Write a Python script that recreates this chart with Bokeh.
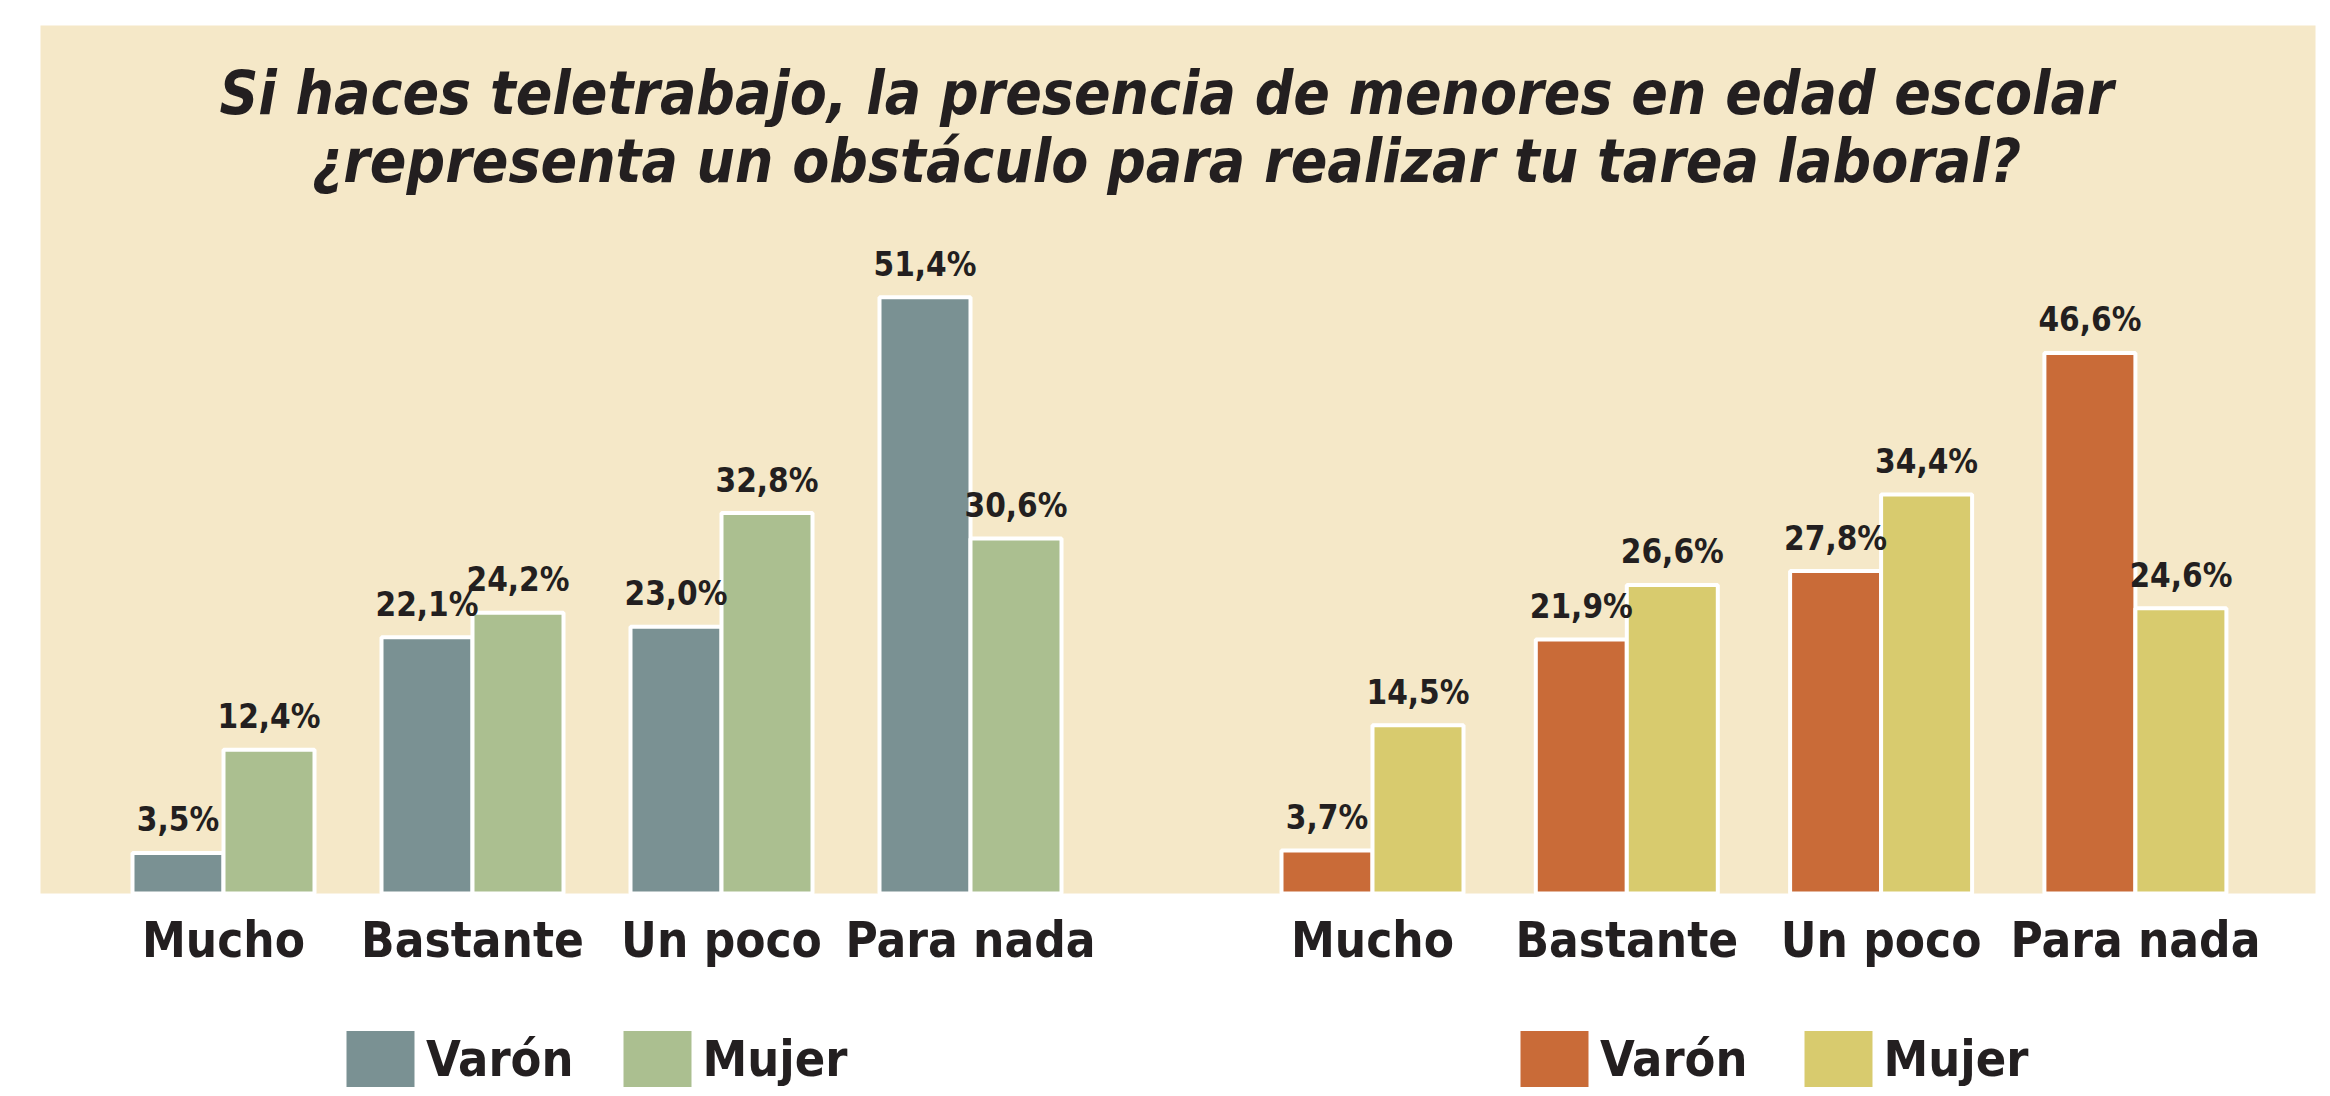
from bokeh.plotting import figure
from bokeh.models import ColumnDataSource, Range1d, Legend, LegendItem, BoxAnnotation
from bokeh.core.properties import value
from bokeh.embed import file_html
from bokeh.resources import INLINE

# ---------------- data ----------------
categories = ["Mucho", "Bastante", "Un poco", "Para nada"]
left_varon = [3.5, 22.1, 23.0, 51.4]
left_mujer = [12.4, 24.2, 32.8, 30.6]
right_varon = [3.7, 21.9, 27.8, 46.6]
right_mujer = [14.5, 26.6, 34.4, 24.6]
series_names = ["Varón", "Mujer"]
title_lines = [
    "Si haces teletrabajo, la presencia de menores en edad escolar",
    "¿representa un obstáculo para realizar tu tarea laboral?",
]

# ---------------- layout / style ----------------
W, H = 2330, 1096
BASE_Y = 893            # screen y of the bars' baseline
PANEL = (40, 2315, 25)  # beige panel left, right, top (screen px)
PX_PER_PCT = 11.6
BAR_W = 91
FONT = ("'Noto Sans Condensed', 'DejaVu Sans Condensed', "
        "'Liberation Sans Narrow', sans-serif")
INK = "#231F20"
BEIGE = "#F5E8C8"

groups = [
    dict(start=223, step=249, varon=left_varon, mujer=left_mujer,
         colors=("#7A9193", "#ABBF90"), legend_x=335, legend_spacing=38),
    dict(start=1372, step=254.3, varon=right_varon, mujer=right_mujer,
         colors=("#C96B38", "#D8CB6E"), legend_x=1509, legend_spacing=45),
]

y_bottom = -(H - BASE_Y) / PX_PER_PCT
y_top = BASE_Y / PX_PER_PCT

p = figure(width=W, height=H, x_range=Range1d(0, W), y_range=Range1d(y_bottom, y_top),
           output_backend="svg", toolbar_location=None, title=None,
           x_axis_location=None, y_axis_location=None, min_border=0)
p.background_fill_color = "white"
p.border_fill_color = "white"
p.outline_line_color = None
p.xgrid.visible = False
p.ygrid.visible = False

p.add_layout(BoxAnnotation(left=PANEL[0], right=PANEL[1], bottom=0,
                           top=(BASE_Y - PANEL[2]) / PX_PER_PCT,
                           fill_color=BEIGE, fill_alpha=1, line_color=None,
                           level="underlay"))

def fmt(v):
    return f"{v:.1f}%".replace(".", ",")

cat_x, cat_t = [], []
label_x, label_y, label_t = [], [], []

for g in groups:
    centers = [g["start"] + i * g["step"] for i in range(len(categories))]
    cat_x.extend(centers)
    cat_t.extend(categories)
    renderers = []
    for k, (vals, col) in enumerate(((g["varon"], g["colors"][0]), (g["mujer"], g["colors"][1]))):
        xs = [c + (k - 0.5) * BAR_W for c in centers]
        src = ColumnDataSource(dict(x=xs, top=vals))
        r = p.vbar(x="x", top="top", bottom=0, width=BAR_W, source=src,
                   fill_color=col, line_color="white", line_width=4)
        renderers.append(r)
        label_x.extend(xs)
        label_y.extend(vals)
        label_t.extend(fmt(v) for v in vals)
    leg = Legend(items=[LegendItem(label=series_names[0], renderers=[renderers[0]]),
                        LegendItem(label=series_names[1], renderers=[renderers[1]])],
                 location=(g["legend_x"], 0), orientation="horizontal",
                 glyph_width=90, glyph_height=75, label_standoff=1,
                 spacing=g["legend_spacing"], label_width=142, padding=0, margin=0,
                 background_fill_alpha=0, border_line_color=None,
                 label_text_font=FONT, label_text_font_style="bold",
                 label_text_font_size="50px", label_text_color=INK)
    p.add_layout(leg)

# value labels above bars
p.text(x=label_x, y=label_y, text=label_t, y_offset=-33,
       text_align="center", text_baseline="alphabetic",
       text_font=value(FONT), text_font_style="bold", text_font_size="33px",
       text_color=INK)

# category labels under the bars
p.text(x=cat_x, y=[0] * len(cat_x), text=cat_t, y_offset=940 - BASE_Y,
       text_align="center", text_baseline="alphabetic",
       text_font=value(FONT), text_font_style="bold", text_font_size="49px",
       text_color=INK)

# title
p.text(x=[1166, 1166],
       y=[(BASE_Y - 92) / PX_PER_PCT, (BASE_Y - 160) / PX_PER_PCT],
       text=title_lines, text_align="center", text_baseline="alphabetic",
       text_font=value(FONT), text_font_style="bold italic", text_font_size="60px",
       text_color=INK)

open("out.html", "w").write(file_html(p, INLINE))
